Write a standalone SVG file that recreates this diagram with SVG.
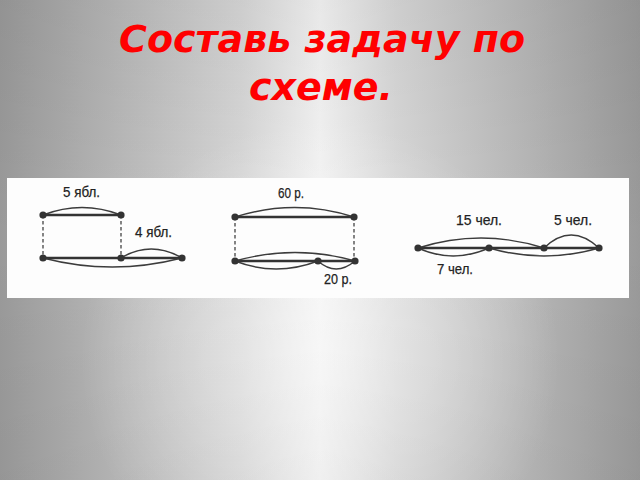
<svg xmlns="http://www.w3.org/2000/svg" width="640" height="480" viewBox="0 0 640 480">
<defs>
<linearGradient id="bgH" x1="0" y1="0" x2="1" y2="0">
<stop offset="0" stop-color="#9a9a9a"/>
<stop offset="0.18" stop-color="#b8b8b8"/>
<stop offset="0.38" stop-color="#d8d8d8"/>
<stop offset="0.5" stop-color="#f4f4f4"/>
<stop offset="0.62" stop-color="#d8d8d8"/>
<stop offset="0.82" stop-color="#b8b8b8"/>
<stop offset="1" stop-color="#9a9a9a"/>
</linearGradient>
<radialGradient id="bgR" cx="320" cy="360" r="240" gradientUnits="userSpaceOnUse">
<stop offset="0" stop-color="#ffffff" stop-opacity="0.55"/>
<stop offset="1" stop-color="#ffffff" stop-opacity="0"/>
</radialGradient>
<linearGradient id="bgV" x1="0" y1="0" x2="0" y2="1">
<stop offset="0" stop-color="#000000" stop-opacity="0.05"/>
<stop offset="0.5" stop-color="#000000" stop-opacity="0"/>
<stop offset="1" stop-color="#000000" stop-opacity="0.03"/>
</linearGradient>
</defs>
<style>
.title{font-family:"DejaVu Sans",sans-serif;font-weight:bold;font-style:italic;font-size:38px;fill:#ff0000;text-anchor:middle}
.lbl{font-family:"Liberation Sans",Arial,sans-serif;font-size:15px;fill:#222222;stroke:#222222;stroke-width:0.25}
.seg{stroke:#333333;stroke-width:2.6;fill:none;stroke-linecap:round}
.arc{stroke:#3c3c3c;stroke-width:1.4;fill:none}
.dash{stroke:#444444;stroke-width:1.3;stroke-dasharray:3.5,2.5;fill:none}
.dot{fill:#333333}
</style>
<rect width="640" height="480" fill="url(#bgH)"/>
<rect width="640" height="480" fill="url(#bgR)"/>
<rect width="640" height="480" fill="url(#bgV)"/>
<g id="title">
<text class="title" x="322" y="52">Составь задачу по</text>
<text class="title" x="321" y="100">схеме.</text>
</g>
<rect id="panel" x="7" y="178" width="622" height="120" fill="#fdfdfd"/>
<g id="connectors">
<line class="seg" x1="43" y1="215" x2="121" y2="215"/>
<line class="seg" x1="43" y1="258" x2="182" y2="258"/>
<line class="dash" x1="43" y1="215" x2="43" y2="258"/>
<line class="dash" x1="121" y1="215" x2="121" y2="258"/>
<path class="arc" d="M43,215 Q82,200 121,215"/>
<path class="arc" d="M121,258 Q151,240 182,258"/>
<path class="arc" d="M43,258 Q112,276 182,258"/>
<line class="seg" x1="235" y1="217" x2="354" y2="217"/>
<line class="seg" x1="235" y1="261" x2="355" y2="261"/>
<line class="dash" x1="235" y1="217" x2="235" y2="261"/>
<line class="dash" x1="354" y1="217" x2="354" y2="261"/>
<path class="arc" d="M235,217 Q295,198 354,217"/>
<path class="arc" d="M235,261 Q295,244 355,261"/>
<path class="arc" d="M235,261 Q276,277 318,261"/>
<path class="arc" d="M318,261 Q336,277 355,261"/>
<line class="seg" x1="418" y1="248" x2="599" y2="248"/>
<path class="arc" d="M418,248 Q481,228 544,248"/>
<path class="arc" d="M544,248 Q571,222 599,248"/>
<path class="arc" d="M418,248 Q453,264 489,248"/>
<path class="arc" d="M489,248 Q544,264 599,248"/>
</g>
<g id="nodes">
<circle class="dot" cx="43" cy="215" r="3.6"/>
<circle class="dot" cx="121" cy="215" r="3.6"/>
<circle class="dot" cx="43" cy="258" r="3.6"/>
<circle class="dot" cx="121" cy="258" r="3.6"/>
<circle class="dot" cx="182" cy="258" r="3.6"/>
<circle class="dot" cx="235" cy="217" r="3.6"/>
<circle class="dot" cx="354" cy="217" r="3.6"/>
<circle class="dot" cx="235" cy="261" r="3.6"/>
<circle class="dot" cx="318" cy="261" r="3.6"/>
<circle class="dot" cx="355" cy="261" r="3.6"/>
<circle class="dot" cx="418" cy="248" r="3.6"/>
<circle class="dot" cx="489" cy="248" r="3.6"/>
<circle class="dot" cx="544" cy="248" r="3.6"/>
<circle class="dot" cx="599" cy="248" r="3.6"/>
</g>
<g id="labels">
<text class="lbl" x="63" y="197" textLength="37" lengthAdjust="spacingAndGlyphs">5 ябл.</text>
<text class="lbl" x="135" y="237" textLength="37" lengthAdjust="spacingAndGlyphs">4 ябл.</text>
<text class="lbl" x="278" y="198" textLength="26" lengthAdjust="spacingAndGlyphs">60 р.</text>
<text class="lbl" x="324" y="284" textLength="28" lengthAdjust="spacingAndGlyphs">20 р.</text>
<text class="lbl" x="456" y="225" textLength="46" lengthAdjust="spacingAndGlyphs">15 чел.</text>
<text class="lbl" x="554" y="225" textLength="38" lengthAdjust="spacingAndGlyphs">5 чел.</text>
<text class="lbl" x="437" y="274" textLength="36" lengthAdjust="spacingAndGlyphs">7 чел.</text>
</g>
</svg>
